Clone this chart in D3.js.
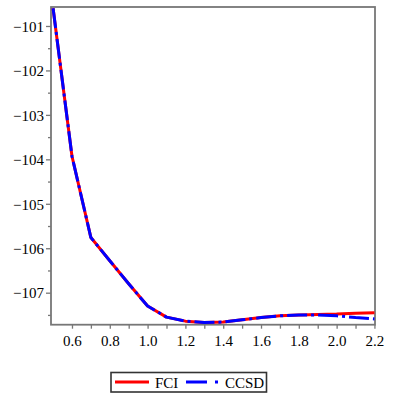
<!DOCTYPE html>
<html><head><meta charset="utf-8">
<script src="https://cdn.jsdelivr.net/npm/d3@7"></script>
<style>body{margin:0;background:#fff}svg{display:block}</style>
</head><body>
<svg id="c" width="401" height="399"></svg>
<script>
const bondLength = [0.5,0.6,0.7,0.8,0.9,1.0,1.1,1.2,1.3,1.4,1.5,1.6,1.7,1.8,1.9,2.0,2.1,2.2];
const fciEnergy  = [-100.60,-103.93,-105.76,-106.28,-106.80,-107.30,-107.55,-107.64,-107.67,-107.66,-107.61,-107.56,-107.52,-107.50,-107.49,-107.48,-107.46,-107.45];
const ccsdEnergy = [-100.60,-103.93,-105.76,-106.28,-106.80,-107.30,-107.55,-107.64,-107.67,-107.66,-107.61,-107.56,-107.52,-107.50,-107.50,-107.52,-107.56,-107.59];
const xTicks = [0.6,0.8,1.0,1.2,1.4,1.6,1.8,2.0,2.2];
const yTicks = [-101,-102,-103,-104,-105,-106,-107];
const seriesNames = ["FCI","CCSD"];

const FONT = "'Liberation Serif'";
const svg = d3.select("#c");
const L=51,R=375,T=7,B=324.7;
const x = d3.scaleLinear().domain([0.489,2.203]).range([L,R]);
const y = d3.scaleLinear().domain([-100.573,-107.72]).range([T,B]);
const axisCol="#777";
const fmtY = d => "\u2212" + Math.abs(d);

// frame
svg.append("rect").attr("x",L).attr("y",T).attr("width",R-L).attr("height",B-T)
  .attr("fill","none").attr("stroke",axisCol).attr("stroke-width",1.8);

// x axis
const xMinor = d3.range(6,23).map(v=>v/10);
const gx = svg.append("g").attr("transform",`translate(0,${B})`);
gx.call(d3.axisBottom(x).tickValues(xMinor).tickSize(4).tickFormat(""))
  .call(g=>g.select(".domain").remove())
  .call(g=>g.selectAll("line").attr("stroke",axisCol).attr("stroke-width",1.3));
const gx2 = svg.append("g").attr("transform",`translate(0,${B})`);
gx2.call(d3.axisBottom(x).tickValues(xTicks).tickSize(0).tickPadding(11).tickFormat(d3.format(".1f")))
  .call(g=>g.select(".domain").remove())
  .call(g=>g.selectAll("text").attr("font-size",15).attr("fill","#000").style("font-family",FONT));

// y axis
const yMinor = d3.range(-1075,-1005,5).map(v=>v/10).filter(v=>!Number.isInteger(v));
const gyMinor = svg.append("g").attr("transform",`translate(${L},0)`);
gyMinor.call(d3.axisLeft(y).tickValues(yMinor).tickSize(3).tickFormat(""))
  .call(g=>g.select(".domain").remove())
  .call(g=>g.selectAll("line").attr("stroke",axisCol).attr("stroke-width",1.3));
const gy = svg.append("g").attr("transform",`translate(${L},0)`);
gy.call(d3.axisLeft(y).tickValues(yTicks).tickSize(5).tickPadding(2).tickFormat(fmtY))
  .call(g=>g.select(".domain").remove())
  .call(g=>g.selectAll("line").attr("stroke",axisCol).attr("stroke-width",1.3))
  .call(g=>g.selectAll("text").attr("font-size",15).attr("fill","#000").attr("dy","0.35em").style("font-family",FONT));

// lines
svg.append("clipPath").attr("id","clp").append("rect")
  .attr("x",L).attr("y",T).attr("width",R-L).attr("height",B-T);
const line = d3.line().x(d=>x(d[0])).y(d=>y(d[1]));
const plot = svg.append("g").attr("clip-path","url(#clp)");
plot.append("path").datum(bondLength.map((b,i)=>[b,fciEnergy[i]]))
  .attr("d",line).attr("fill","none").attr("stroke","#ff0000").attr("stroke-width",3).attr("stroke-linejoin","round");
plot.append("path").datum(bondLength.map((b,i)=>[b,ccsdEnergy[i]]))
  .attr("d",line).attr("fill","none").attr("stroke","#0000ff").attr("stroke-width",3)
  .attr("stroke-dasharray","20,4,3,4").attr("stroke-linejoin","round");

// legend
const lg = svg.append("g");
lg.append("rect").attr("x",111).attr("y",372.5).attr("width",155.5).attr("height",19.5)
  .attr("fill","#fff").attr("stroke","#333").attr("stroke-width",1.6);
lg.append("line").attr("x1",115).attr("x2",149).attr("y1",382).attr("y2",382)
  .attr("stroke","#ff0000").attr("stroke-width",3);
lg.append("text").attr("x",155).attr("y",387.5).attr("font-size",15).style("font-family",FONT).text(seriesNames[0]);
lg.append("line").attr("x1",186).attr("x2",219).attr("y1",382).attr("y2",382)
  .attr("stroke","#0000ff").attr("stroke-width",3).attr("stroke-dasharray","21,8,3,8");
lg.append("text").attr("x",225).attr("y",387.5).attr("font-size",15).style("font-family",FONT).text(seriesNames[1]);
</script>
</body></html>
